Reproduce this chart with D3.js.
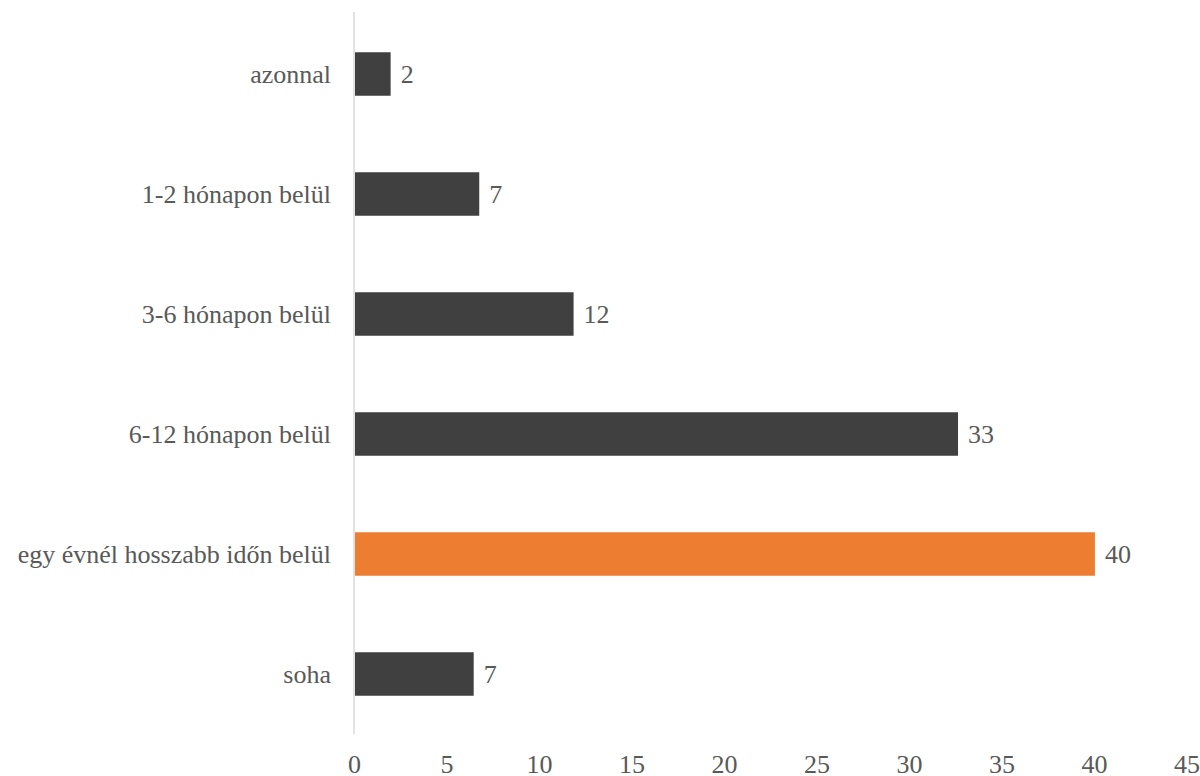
<!DOCTYPE html>
<html>
<head>
<meta charset="utf-8">
<script src="https://cdn.jsdelivr.net/npm/d3@7"></script>
<style>
  html, body { margin: 0; padding: 0; background: #fff; }
  svg { display: block; }
</style>
</head>
<body>
<svg id="chart" width="1200" height="776"></svg>
<script>
const categories = ["azonnal", "1-2 hónapon belül", "3-6 hónapon belül", "6-12 hónapon belül", "egy évnél hosszabb időn belül", "soha"];
const values = [1.98, 6.77, 11.87, 32.65, 40.05, 6.47];
const labels = ["2", "7", "12", "33", "40", "7"];
const highlight = [false, false, false, false, true, false];
const xTicks = [0, 5, 10, 15, 20, 25, 30, 35, 40, 45];

const FONT = "Liberation Serif";
const FS = 26;
const TXT = "#595959";
const svg = d3.select("#chart");
const margin = { left: 354, right: 13.5, top: 14, bottom: 42 };
const W = 1200, H = 776;

const x = d3.scaleLinear().domain([0, 45]).range([margin.left, W - margin.right]);
const y = d3.scaleBand().domain(categories).range([margin.top, H - margin.bottom]).paddingInner(0.6375).paddingOuter(0.31875);

// bars
svg.append("g").selectAll("rect").data(categories).join("rect")
  .attr("x", x(0) + 1)
  .attr("y", d => y(d))
  .attr("width", (d, i) => x(values[i]) - x(0) - 1)
  .attr("height", y.bandwidth())
  .attr("fill", (d, i) => highlight[i] ? "#ED7D31" : "#404040");

// value labels
svg.append("g").selectAll("text").data(categories).join("text")
  .attr("x", (d, i) => x(values[i]) + 10)
  .attr("y", d => y(d) + y.bandwidth() / 2)
  .attr("dy", "0.33em")
  .attr("font-size", FS)
  .attr("font-family", FONT)
  .attr("fill", TXT)
  .text((d, i) => labels[i]);

// y axis (category labels)
const yAxis = d3.axisLeft(y).tickSize(0).tickPadding(23);
const gy = svg.append("g").attr("transform", `translate(${x(0)},0)`).call(yAxis)
  .attr("font-family", FONT).attr("font-size", FS);
gy.select(".domain").remove();
gy.selectAll("text").attr("font-size", FS).attr("font-family", FONT).attr("fill", TXT).attr("dy", "0.33em");

// vertical baseline
svg.append("line")
  .attr("x1", x(0)).attr("x2", x(0))
  .attr("y1", margin.top - 2).attr("y2", H - margin.bottom)
  .attr("stroke", "#d9d9d9").attr("stroke-width", 1.5);

// x axis
const xAxis = d3.axisBottom(x).tickValues(xTicks).tickSize(0).tickPadding(0).tickFormat(d3.format("d"));
const gx = svg.append("g").attr("transform", `translate(0,${H - 3})`).call(xAxis)
  .attr("font-family", FONT).attr("font-size", FS);
gx.select(".domain").remove();
gx.selectAll("text").attr("font-size", FS).attr("dy", "0").attr("y", 0).attr("font-family", FONT).attr("fill", TXT);
</script>
</body>
</html>
